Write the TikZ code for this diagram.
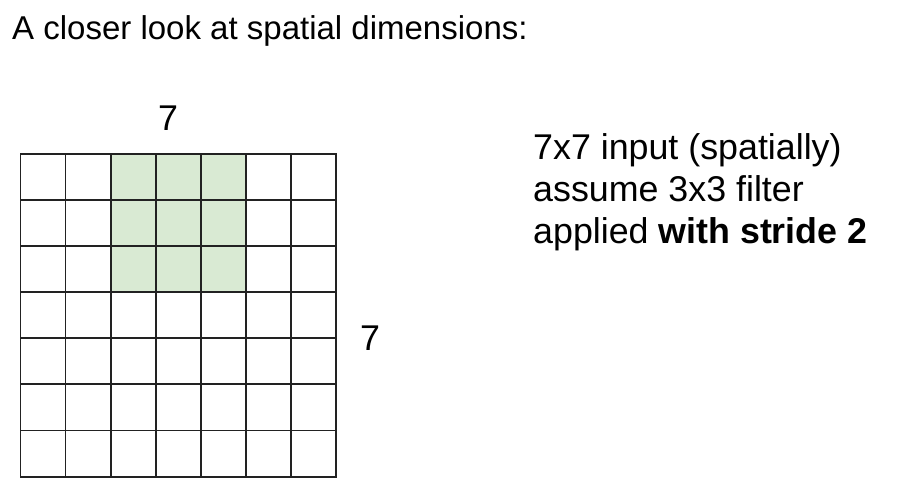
\documentclass[tikz,border=0pt]{standalone}
\usepackage{fontspec}
\setmainfont{Liberation Sans}
\definecolor{cellgreen}{HTML}{D9EAD3}
\definecolor{gridline}{HTML}{222222}
\begin{document}
\begin{tikzpicture}[x=1pt,y=-1pt,
  gridlines/.style={draw=gridline,line width=1.9pt,line cap=rect},
  titletext/.style={inner sep=0pt,anchor=base west,font=\fontsize{33}{42}\selectfont},
  bigtext/.style={inner sep=0pt,anchor=base west,font=\fontsize{35.8}{42}\selectfont},
  dimlabel/.style={inner sep=0pt,font=\fontsize{35.8}{40}\selectfont}]
\useasboundingbox[fill=white] (0,0) rectangle (898,497);
\node[titletext] (title) at (12,40) {A closer look at spatial dimensions:};
\fill[cellgreen] (110.56,153.7) rectangle (245.64,292.12);
\foreach \i in {0,...,7} {
  \draw[gridlines] ({20.5+45.03*\i},153.7) -- ({20.5+45.03*\i},476.7);
  \draw[gridlines] (20.5,{153.7+46.14*\i}) -- (335.7,{153.7+46.14*\i});
}
\node[dimlabel] (top7) at (168,118) {7};
\node[dimlabel] (side7) at (370,338) {7};
\node[bigtext] (l1) at (533,160) {7x7 input (spatially)};
\node[bigtext] (l2) at (533,202) {assume 3x3 filter};
\node[bigtext] (l3) at (533,244) {applied \textbf{with stride 2}};
\end{tikzpicture}
\end{document}
